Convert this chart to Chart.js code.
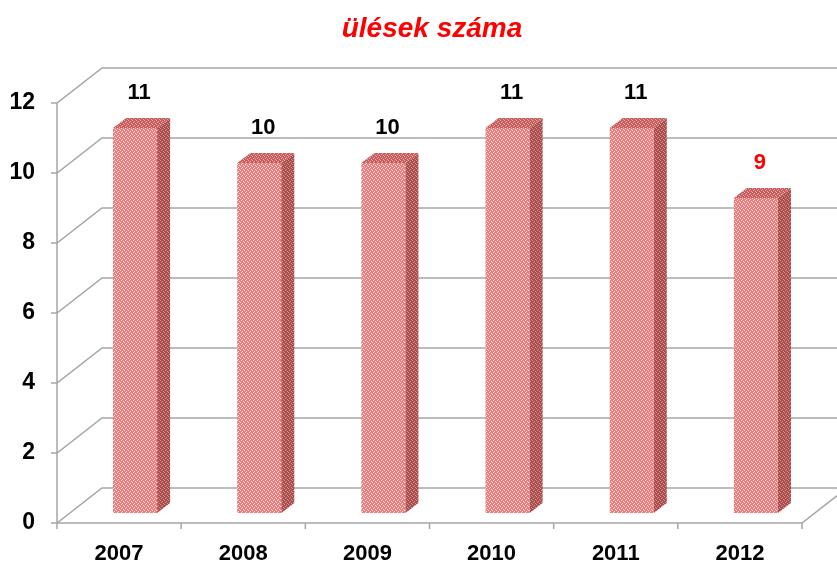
<!DOCTYPE html>
<html lang="hu">
<head>
    <meta charset="utf-8">
    <title>ülések száma</title>
    <script src="https://cdn.jsdelivr.net/npm/chart.js"></script>
    <style>
        html, body { margin: 0; padding: 0; background: #fff; }
        #wrap { width: 837px; height: 562px; position: relative; }
    </style>
</head>
<body>
    <div id="wrap"><canvas id="chart"></canvas></div>

    <script>
        const categories = ['2007', '2008', '2009', '2010', '2011', '2012'];
        const sessions = [11, 10, 10, 11, 11, 9];
        const yMin = 0;
        const yMax = 12;
        const yStep = 2;
        const labelColors = ['#000', '#000', '#000', '#000', '#000', '#ff0000'];

        // 3D look: offsets in px
        const wallShift = { x: 45, y: -35 };
        const barShift = { x: 16, y: -10 };
        const barDepth = { x: 13, y: -10 };
        const gridColor = '#a6a6a6';
        const fontFamily = '"Liberation Sans", Arial, sans-serif';

        function makePattern(base, dot) {
            const c = document.createElement('canvas');
            c.width = 4; c.height = 4;
            const g = c.getContext('2d');
            g.fillStyle = base;
            g.fillRect(0, 0, 4, 4);
            g.fillStyle = dot;
            g.fillRect(0, 0, 1, 1);
            g.fillRect(2, 1, 1, 1);
            g.fillRect(1, 2, 1, 1);
            g.fillRect(3, 3, 1, 1);
            return g.createPattern(c, 'repeat');
        }

        const frontFill = makePattern('#f07b7b', '#ffe2e2');
        const sideFill = makePattern('#a84c4c', '#d89494');
        const topFill = makePattern('#c45e5e', '#eaa8a8');

        const frame3d = {
            id: 'frame3d',
            beforeDatasetsDraw(chart) {
                const { ctx, chartArea } = chart;
                const y = chart.scales.y;
                const L = chartArea.left, R = chartArea.right, B = chartArea.bottom;
                ctx.save();
                ctx.strokeStyle = gridColor;
                ctx.lineWidth = 1.5;
                ctx.beginPath();
                for (let v = yMin; v <= yMax; v += yStep) {
                    const py = y.getPixelForValue(v);
                    // tick mark, diagonal and back wall line
                    ctx.moveTo(L - 6, py);
                    ctx.lineTo(L, py);
                    ctx.lineTo(L + wallShift.x, py + wallShift.y);
                    ctx.lineTo(chart.width + 10, py + wallShift.y);
                }
                // front axis
                ctx.moveTo(L, y.getPixelForValue(yMax));
                ctx.lineTo(L, B);
                ctx.lineTo(R, B);
                ctx.lineTo(R + wallShift.x, B + wallShift.y);
                // category ticks
                for (let i = 0; i <= categories.length; i++) {
                    const px = L + (R - L) * i / categories.length;
                    ctx.moveTo(px, B);
                    ctx.lineTo(px, B + 6);
                }
                ctx.stroke();
                ctx.restore();

                ctx.save();
                ctx.translate(barShift.x, barShift.y);
            },
            afterDatasetsDraw(chart) {
                const { ctx } = chart;
                ctx.restore();
                const meta = chart.getDatasetMeta(0);
                ctx.save();
                meta.data.forEach((bar, i) => {
                    const left = bar.x - bar.width / 2 + barShift.x;
                    const right = bar.x + bar.width / 2 + barShift.x;
                    const top = bar.y + barShift.y;
                    const bottom = bar.base + barShift.y;
                    // side face
                    ctx.fillStyle = sideFill;
                    ctx.beginPath();
                    ctx.moveTo(right, top);
                    ctx.lineTo(right + barDepth.x, top + barDepth.y);
                    ctx.lineTo(right + barDepth.x, bottom + barDepth.y);
                    ctx.lineTo(right, bottom);
                    ctx.closePath();
                    ctx.fill();
                    // top face
                    ctx.fillStyle = topFill;
                    ctx.beginPath();
                    ctx.moveTo(left, top);
                    ctx.lineTo(left + barDepth.x, top + barDepth.y);
                    ctx.lineTo(right + barDepth.x, top + barDepth.y);
                    ctx.lineTo(right, top);
                    ctx.closePath();
                    ctx.fill();
                    // value label
                    ctx.fillStyle = labelColors[i];
                    ctx.font = 'bold 22px ' + fontFamily;
                    ctx.textAlign = 'center';
                    ctx.textBaseline = 'middle';
                    ctx.fillText(String(sessions[i]), bar.x + barShift.x + 4, top - 35);
                });
                ctx.restore();
            }
        };

        new Chart(document.getElementById('chart'), {
            type: 'bar',
            data: {
                labels: categories,
                datasets: [{
                    data: sessions,
                    backgroundColor: frontFill,
                    borderWidth: 0,
                    categoryPercentage: 1,
                    barPercentage: 0.355
                }]
            },
            options: {
                responsive: true,
                maintainAspectRatio: false,
                animation: false,
                events: [],
                layout: { padding: { top: 103, right: 35, left: 0, bottom: 0 } },
                plugins: {
                    legend: { display: false },
                    tooltip: { enabled: false },
                    title: { display: false }
                },
                scales: {
                    x: {
                        grid: { display: false, drawTicks: false },
                        border: { display: false },
                        ticks: {
                            color: '#000',
                            padding: 18,
                            font: { family: fontFamily, size: 22, weight: 'bold' }
                        },
                        afterFit(scale) { scale.height = 39; }
                    },
                    y: {
                        min: yMin,
                        max: yMax,
                        grid: { display: false, drawTicks: false },
                        border: { display: false },
                        ticks: {
                            stepSize: yStep,
                            color: '#000',
                            padding: 22,
                            font: { family: fontFamily, size: 23, weight: 'bold' }
                        },
                        afterFit(scale) { scale.width = 57; }
                    }
                }
            },
            plugins: [frame3d, {
                id: 'titleText',
                afterDraw(chart) {
                    const { ctx } = chart;
                    ctx.save();
                    ctx.fillStyle = '#ff0000';
                    ctx.font = 'italic bold 28px ' + fontFamily;
                    ctx.textAlign = 'center';
                    ctx.textBaseline = 'middle';
                    ctx.fillText('ülések száma', 432, 29);
                    ctx.restore();
                }
            }]
        });
    </script>
</body>
</html>
